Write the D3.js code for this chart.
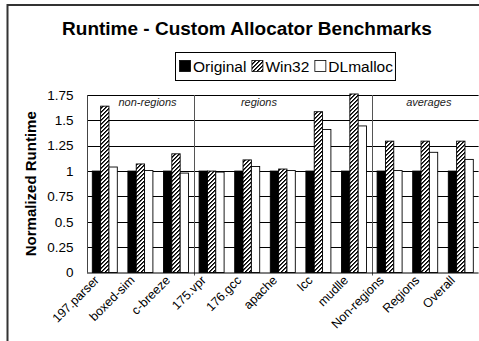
<!DOCTYPE html>
<html>
<head>
<meta charset="utf-8">
<title>runtime</title>
<script src="https://cdn.jsdelivr.net/npm/d3@7"></script>
<style>
  body { margin: 0; background: #fff; }
  svg text { font-family: Arial, "Liberation Sans", sans-serif; }
</style>
</head>
<body>
<svg id="chart" width="479" height="341"></svg>
<script>
// data
var benchmarks = ["197.parser", "boxed-sim", "c-breeze", "175.vpr", "176.gcc", "apache", "lcc", "mudlle", "Non-regions", "Regions", "Overall"];
var seriesNames = ["Original", "Win32", "DLmalloc"];
var original = [1, 1, 1, 1, 1, 1, 1, 1, 1, 1, 1];
var win32 = [1.64, 1.07, 1.17, 1.0, 1.11, 1.02, 1.585, 1.76, 1.295, 1.295, 1.295];
var dlmalloc = [1.04, 1.005, 0.98, 0.99, 1.045, 1.005, 1.41, 1.445, 1.005, 1.185, 1.115];
var yTicks = [0, 0.25, 0.5, 0.75, 1, 1.25, 1.5, 1.75];
var groupNames = ["non-regions", "regions", "averages"];
var groupBounds = [3, 8]; // separators after these many benchmarks

var svg = d3.select("#chart");

// frame
svg.append("line").attr("x1", 7).attr("x2", 479).attr("y1", 5).attr("y2", 5)
  .attr("stroke", "#333").attr("stroke-width", 2);
svg.append("line").attr("x1", 7.5).attr("x2", 7.5).attr("y1", 4).attr("y2", 341)
  .attr("stroke", "#333").attr("stroke-width", 2);

// hatch pattern (dense diagonal)
var defs = svg.append("defs");
var pat = defs.append("pattern").attr("id", "hatch")
  .attr("patternUnits", "userSpaceOnUse").attr("width", 4).attr("height", 4);
pat.append("rect").attr("width", 4).attr("height", 4).attr("fill", "#fff");
for (var py = 0; py < 4; py++) {
  for (var px = 0; px < 4; px++) {
    if ((px + py) % 4 < 2) {
      pat.append("rect").attr("x", px).attr("y", py).attr("width", 1).attr("height", 1)
        .attr("fill", (px + py) % 4 == 0 ? "#000" : "#444");
    }
  }
}

var pLeft = 87, pRight = 478.6, pTop = 95, pBottom = 272.5;

var x = d3.scaleBand().domain(benchmarks).range([pLeft, pRight]);
var xs = d3.scaleBand().domain(seriesNames).range([5.3, 30.3]);
var y = d3.scaleLinear().domain([0, 1.75]).range([pBottom, pTop]);

// title
svg.append("text").attr("x", 247).attr("y", 35).attr("text-anchor", "middle")
  .style("font-size", "19px").style("font-weight", "bold").text("Runtime - Custom Allocator Benchmarks");

// gridlines
svg.append("g").selectAll("line").data(yTicks.slice(1)).join("line")
  .attr("x1", pLeft).attr("x2", pRight).attr("y1", d => Math.round(y(d)) + 0.5).attr("y2", d => Math.round(y(d)) + 0.5)
  .attr("stroke", "#000").attr("stroke-width", 1);

// group separators
svg.append("g").selectAll("line").data(groupBounds).join("line")
  .attr("x1", d => Math.round(pLeft + d * x.step()) + 0.5).attr("x2", d => Math.round(pLeft + d * x.step()) + 0.5)
  .attr("y1", pTop).attr("y2", pBottom + 3)
  .attr("stroke", "#555").attr("stroke-width", 1);

// group labels
var labelPos = [1.7, 4.83, 9.6];
svg.append("g").selectAll("text").data(groupNames).join("text")
  .attr("x", (d, i) => pLeft + labelPos[i] * x.step()).attr("y", 106)
  .attr("text-anchor", "middle").style("font-size", "11px").style("font-style", "italic")
  .attr("fill", "#222").text(d => d);

// bars
var rows = [];
benchmarks.forEach(function(b, i) {
  rows.push({ b: b, s: "Original", v: original[i] });
  rows.push({ b: b, s: "Win32", v: win32[i] });
  rows.push({ b: b, s: "DLmalloc", v: dlmalloc[i] });
});
var fills = { Original: "#000", Win32: "url(#hatch)", DLmalloc: "#fff" };
svg.append("g").selectAll("rect").data(rows).join("rect")
  .attr("x", d => x(d.b) + xs(d.s))
  .attr("y", d => y(d.v))
  .attr("width", xs.bandwidth())
  .attr("height", d => pBottom - y(d.v))
  .attr("fill", d => fills[d.s])
  .attr("stroke", "#000").attr("stroke-width", 0.9);

// plot frame left + axis
svg.append("line").attr("x1", pLeft + 0.5).attr("x2", pLeft + 0.5).attr("y1", pTop).attr("y2", pBottom)
  .attr("stroke", "#444");
svg.append("line").attr("x1", pLeft).attr("x2", pRight).attr("y1", pBottom + 0.5).attr("y2", pBottom + 0.5)
  .attr("stroke", "#000").attr("stroke-width", 1.2);

// y axis labels
svg.append("g").selectAll("text").data(yTicks).join("text")
  .attr("x", 73.5).attr("y", d => y(d)).attr("dy", "0.35em")
  .attr("text-anchor", "end").style("font-size", "13.5px").text(d => d);

svg.append("text").attr("transform", "translate(36," + (pTop + pBottom) / 2 + ") rotate(-90)")
  .attr("text-anchor", "middle").style("font-size", "15px").style("font-weight", "bold")
  .text("Normalized Runtime");

// x labels
svg.append("g").selectAll("text").data(benchmarks).join("text")
  .attr("transform", d => "translate(" + (x(d) + x.bandwidth() / 2 - 5) + "," + (pBottom + 8.5) + ") rotate(-45)")
  .attr("text-anchor", "end").style("font-size", "12.5px").text(d => d);

// legend
var lg = svg.append("g");
var box = lg.append("rect").attr("y", 52.5).attr("height", 28)
  .attr("fill", "#fff").attr("stroke", "#000");
var lx = 0;
seriesNames.forEach(function(s) {
  lg.append("rect").attr("x", lx + 0.5).attr("y", 60.5).attr("width", 11).attr("height", 11)
    .attr("fill", fills[s]).attr("stroke", "#000").attr("stroke-width", 0.8);
  var t = lg.append("text").attr("x", lx + 14).attr("y", 72).style("font-size", "15.5px").text(s);
  lx += 14 + t.node().getComputedTextLength() + 5;
});
var legendRight = 396;
var lgLeft = legendRight - (lx - 5) - 6;
box.attr("x", -3.5).attr("width", lx - 5 + 6);
lg.attr("transform", "translate(" + Math.round(lgLeft + 3) + ",0)");
</script>
</body>
</html>
